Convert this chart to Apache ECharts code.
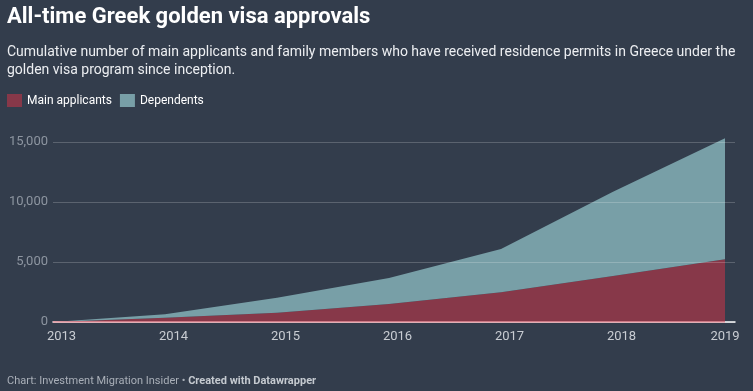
<!DOCTYPE html>
<html><head><meta charset="utf-8">
<script src="https://cdn.jsdelivr.net/npm/echarts@6/dist/echarts.min.js"></script>
<style>html,body{margin:0;padding:0;background:#333d4c;}#c{width:753px;height:391px;}</style>
</head><body><div id="c"></div>
<script>
const years = ['2013', '2014', '2015', '2016', '2017', '2018', '2019'];
const mainApplicants = [0, 360, 780, 1500, 2475, 3830, 5225];
const dependents = [0, 280, 1250, 2170, 3605, 7030, 10085];
const yTicks = [0, 5000, 10000, 15000];

const chart = echarts.init(document.getElementById('c'));
const F = 'Roboto, "Noto Sans", sans-serif';
const lastYear = years[years.length - 1];
chart.setOption({
  backgroundColor: '#333d4c',
  animation: false,
  title: [{
    text: 'All-time Greek golden visa approvals',
    left: 7, top: 6, padding: 0,
    textStyle: {color: '#ffffff', fontFamily: F, fontWeight: 'bold', fontSize: 22}
  }, {
    text: 'Cumulative number of main applicants and family members who have received residence permits in Greece under the\ngolden visa program since inception.',
    left: 7, top: 43, padding: 0,
    textStyle: {color: '#eceef1', fontFamily: F, fontWeight: 'normal', fontSize: 14, lineHeight: 18}
  }],
  legend: {
    left: 7, top: 94, padding: 0, icon: 'rect', itemWidth: 15, itemHeight: 13, itemGap: 8,
    textStyle: {color: '#ffffff', fontFamily: F, fontSize: 12},
    data: ['Main applicants', 'Dependents']
  },
  grid: [
    {left: 53, right: 28, top: 142, bottom: 69},
    {left: 53, right: 18, top: 142, bottom: 69}
  ],
  xAxis: [{
    gridIndex: 0, type: 'category', data: years, boundaryGap: false,
    axisLine: {show: false}, axisTick: {show: false}, splitLine: {show: false},
    axisLabel: {
      color: '#c9cdd3', fontFamily: F, fontSize: 13, margin: 8, interval: 0,
      formatter: v => v === lastYear ? '{b|' + v + '}' : '{a|' + v + '}',
      rich: {a: {color: '#c9cdd3', fontFamily: F, fontSize: 13, padding: [0,0,0,17]}, b: {color: '#c9cdd3', fontFamily: F, fontSize: 13}}
    }
  }, {
    gridIndex: 1, type: 'value', min: 0, max: 1,
    axisLine: {show: true, lineStyle: {color: '#ffffff', width: 1.5}},
    axisTick: {show: false}, axisLabel: {show: false}, splitLine: {show: false}
  }],
  yAxis: [{
    gridIndex: 0, type: 'value', min: yTicks[0], max: yTicks[yTicks.length-1], interval: 5000,
    axisLine: {show: false}, axisTick: {show: false}, axisLabel: {show: false}, splitLine: {show: false}
  }, {
    gridIndex: 1, type: 'value', min: yTicks[0], max: yTicks[yTicks.length-1], interval: 5000, z: 10,
    axisLine: {show: false}, axisTick: {show: false},
    splitLine: {show: true, lineStyle: {color: 'rgba(255,255,255,0.2)', width: 1}},
    axisLabel: {color: '#8d95a0', fontFamily: F, fontSize: 13, margin: 5,
      formatter: v => v === 0 ? '0' : v.toLocaleString('en-US')}
  }],
  series: [{
    name: 'Main applicants', type: 'line', stack: 'total', clip: false,
    xAxisIndex: 0, yAxisIndex: 0,
    symbol: 'none', lineStyle: {width: 0}, itemStyle: {color: '#873849'},
    areaStyle: {color: '#873849', opacity: 1},
    data: mainApplicants
  }, {
    name: 'Dependents', type: 'line', stack: 'total', clip: false,
    xAxisIndex: 0, yAxisIndex: 0,
    symbol: 'none', lineStyle: {width: 0}, itemStyle: {color: '#789fa7'},
    areaStyle: {color: '#789fa7', opacity: 1},
    data: dependents
  }, {
    name: 'baseline', type: 'line', z: 11, symbol: 'none', silent: true,
    xAxisIndex: 0, yAxisIndex: 0,
    lineStyle: {color: '#e8909b', width: 1.5},
    data: years.map(() => 0)
  }],
  graphic: [{
    type: 'text', left: 7, top: 376,
    style: {
      text: '{n|Chart: Investment Migration Insider • }{b|Created with Datawrapper}',
      rich: {
        n: {fill: '#a9afb8', fontFamily: F, fontSize: 11},
        b: {fill: '#c5cad0', fontFamily: F, fontSize: 11, fontWeight: 'bold'}
      }
    }
  }]
});
</script></body></html>
